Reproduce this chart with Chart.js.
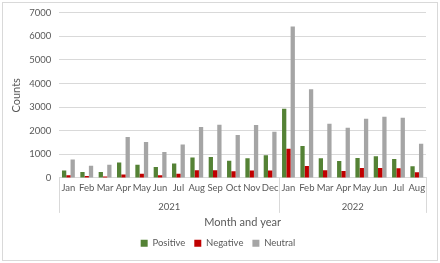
<!DOCTYPE html>
<html>
<head>
<meta charset="utf-8">
<script src="https://cdn.jsdelivr.net/npm/chart.js@4"></script>
<style>
  html, body { margin: 0; padding: 0; background: #fff; }
  #box {
    position: absolute; left: 2px; top: 2px;
    width: 434px; height: 257px; overflow: hidden;
    border: 1px solid #d9d9d9; background: #fff;
  }
  #sentChart { position: absolute; left: 0; top: -4px; }
</style>
</head>
<body>
<div id="box"><canvas id="sentChart" width="434" height="261"></canvas></div>
<script>
// month labels, two years (2021 full, 2022 Jan-Aug)
const months = ["Jan","Feb","Mar","Apr","May","Jun","Jul","Aug","Sep","Oct","Nov","Dec",
                "Jan","Feb","Mar","Apr","May","Jun","Jul","Aug"];
const years = ["2021", "2022"];
const yearCounts = [12, 8];

const positive = [310, 250, 250, 650, 560, 465, 605, 860, 890, 730, 830, 960,
                  2930, 1350, 830, 720, 845, 915, 800, 490];
const negative = [110, 85, 60, 140, 180, 110, 180, 325, 325, 280, 310, 310,
                  1240, 505, 325, 295, 420, 420, 410, 240];
const neutral  = [775, 520, 560, 1730, 1520, 1100, 1420, 2155, 2250, 1815, 2240, 1960,
                  6420, 3760, 2295, 2125, 2505, 2590, 2550, 1450];

const yTicks = [0, 1000, 2000, 3000, 4000, 5000, 6000, 7000];

const textColor = "#595959";
const font = "Lato, 'Open Sans', sans-serif";

// draws the year row under month labels (Excel style multi-level axis)
const yearRow = {
  id: "yearRow",
  afterDraw(chart) {
    const ctx = chart.ctx;
    const x = chart.scales.x;
    const bottom = chart.chartArea.bottom;
    const half = (x.getPixelForValue(1) - x.getPixelForValue(0)) / 2;
    ctx.save();
    ctx.strokeStyle = "#d9d9d9";
    ctx.lineWidth = 1;
    ctx.fillStyle = textColor;
    ctx.font = "9.5px " + font;
    ctx.textAlign = "center";
    ctx.textBaseline = "middle";
    let start = 0;
    for (let i = 0; i < years.length; i++) {
      const end = start + yearCounts[i] - 1;
      const left = x.getPixelForValue(start) - half;
      const right = x.getPixelForValue(end) + half;
      ctx.beginPath();
      ctx.moveTo(Math.round(left) + 0.5, bottom);
      ctx.lineTo(Math.round(left) + 0.5, bottom + 35);
      if (i === years.length - 1) {
        ctx.moveTo(Math.round(right) + 0.5, bottom);
        ctx.lineTo(Math.round(right) + 0.5, bottom + 35);
      }
      ctx.stroke();
      ctx.fillText(years[i], (left + right) / 2, bottom + 29);
      start = end + 1;
    }
    ctx.restore();
  }
};

const data = {
  labels: months,
  datasets: [
    { label: "Positive", data: positive, backgroundColor: "#548235" },
    { label: "Negative", data: negative, backgroundColor: "#c00000" },
    { label: "Neutral",  data: neutral,  backgroundColor: "#a5a5a5" },
  ],
};

const config = {
  type: "bar",
  data: data,
  options: {
    responsive: false,
    animation: false,
    layout: { padding: { left: 7, right: 11, top: 0, bottom: 2 } },
    datasets: { bar: { categoryPercentage: 0.7, barPercentage: 1.0 } },
    plugins: {
      legend: {
        position: "bottom",
        labels: {
          boxWidth: 7, boxHeight: 7, padding: 9,
          color: textColor, font: { family: font, size: 9.5 },
        },
      },
      tooltip: { enabled: false },
    },
    scales: {
      x: {
        grid: { display: false, drawTicks: false },
        border: { color: "#d9d9d9" },
        ticks: { color: textColor, font: { family: font, size: 9.5 }, maxRotation: 0, autoSkip: false, padding: 4 },
        title: {
          display: true, text: "Month and year", color: textColor,
          font: { family: font, size: 11 }, padding: { top: 19, bottom: 0 },
        },
      },
      y: {
        min: 0, max: 7000,
        afterBuildTicks(axis) { axis.ticks = yTicks.map(v => ({ value: v })); },
        grid: { color: "#d9d9d9", drawTicks: false },
        border: { display: false },
        ticks: {
          color: textColor, font: { family: font, size: 9.5 }, padding: 8,
          callback: v => String(v),
        },
        title: {
          display: true, text: "Counts", color: textColor,
          font: { family: font, size: 11 }, padding: { top: 0, bottom: -2 },
        },
      },
    },
  },
  plugins: [yearRow],
};

const ctx = document.getElementById("sentChart").getContext("2d");
const sentChart = new Chart(ctx, config);
</script>
</body>
</html>
